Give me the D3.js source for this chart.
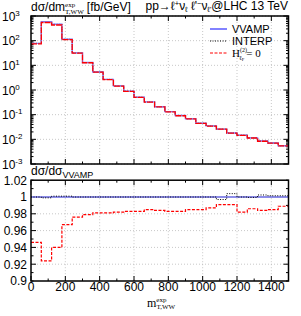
<!DOCTYPE html>
<html>
<head>
<meta charset="utf-8">
<script src="https://cdn.jsdelivr.net/npm/d3@7"></script>
<style>
  body { margin: 0; background: #fff; }
  text { font-family: "Liberation Sans", Arial, sans-serif; fill: #000; }
  .serif { font-family: "Liberation Serif", "Times New Roman", serif; }
</style>
</head>
<body>
<svg id="chart" width="301" height="316"></svg>
<script>
// bins of m_T,WW^exp (GeV), lower edges; last edge is 1500
var binLow = [0, 60, 120, 180, 240, 300, 360, 420, 480, 540, 600, 660, 720,
  780, 840, 900, 960, 1020, 1080, 1140, 1200, 1260, 1320, 1380, 1440];
var binEnd = 1500;

// dsigma/dm [fb/GeV], VVAMP
var vvamp = [78, 590, 460, 114, 32, 13, 5.4, 2.7, 1.47, 0.9, 0.51, 0.33, 0.21,
  0.133, 0.092, 0.068, 0.045, 0.035, 0.026, 0.018, 0.0148, 0.0115, 0.0085, 0.0071, 0.0055];

// ratios to VVAMP
var ratioInterp = [1.0, 0.999, 1.001, 1.001, 1.0, 1.0, 1.0, 1.0, 1.0, 1.0, 1.0, 1.0, 1.0,
  1.0, 1.0, 1.0, 1.0, 1.0, 0.997, 1.004, 1.0, 0.9995, 1.0024, 1.0015, 1.0015];
var ratioH0 = [0.946, 0.924, 0.940, 0.967, 0.976, 0.979, 0.981, 0.981, 0.982, 0.983, 0.983,
  0.985, 0.984, 0.983, 0.983, 0.985, 0.985, 0.987, 0.991, 0.991, 0.982, 0.986, 0.984, 0.985, 0.989];

var xTicks = [0, 200, 400, 600, 800, 1000, 1200, 1400];
var topExps = [-3, -2, -1, 0, 1, 2, 3];
var ratioTicks = [0.9, 0.92, 0.94, 0.96, 0.98, 1, 1.02];

var svg = d3.select('#chart');

var x = d3.scaleLinear().domain([0, 1500]).range([31, 288.5]);
var yTop = d3.scaleLog().domain([1e-3, 1e3]).range([164, 16]);
var yRat = d3.scaleLinear().domain([0.9, 1.02]).range([281, 180.2]);

// step series helper: points at each lower edge + closing point
function steps(vals) {
  var pts = binLow.map(function (b, i) { return [b, vals[i]]; });
  pts.push([binEnd, vals[vals.length - 1]]);
  return pts;
}

var interpTop = vvamp.map(function (v, i) { return v * ratioInterp[i]; });
var h0Top = vvamp.map(function (v, i) { return v * ratioH0[i]; });

var gridStyle = function (sel) {
  sel.attr('stroke', '#b0b0b0').attr('stroke-width', 0.7).attr('stroke-dasharray', '1,2');
};

function panel(y, y0, y1, majors, minors) {
  var g = svg.append('g');
  // grid
  g.selectAll('.gx').data(xTicks.slice(1)).enter().append('line')
    .attr('x1', function (d) { return x(d); }).attr('x2', function (d) { return x(d); })
    .attr('y1', y0).attr('y2', y1).call(gridStyle);
  g.selectAll('.gy').data(majors).enter().append('line')
    .attr('x1', 31).attr('x2', 288.5)
    .attr('y1', function (d) { return y(d); }).attr('y2', function (d) { return y(d); })
    .call(gridStyle);

  // ticks, inward on all four sides
  var tk = g.append('g').attr('stroke', '#000').attr('stroke-width', 1);
  x.ticks(15).forEach(function (d) {
    var len = xTicks.indexOf(d) >= 0 ? 5 : 2.5;
    tk.append('line').attr('x1', x(d)).attr('x2', x(d)).attr('y1', y1).attr('y2', y1 - len);
    tk.append('line').attr('x1', x(d)).attr('x2', x(d)).attr('y1', y0).attr('y2', y0 + len);
  });
  minors.forEach(function (d) {
    var major = majors.some(function (m) { return Math.abs(m - d) < 1e-9 * Math.max(1, m); });
    var len = major ? 5 : 2.5;
    tk.append('line').attr('x1', 31).attr('x2', 31 + len).attr('y1', y(d)).attr('y2', y(d));
    tk.append('line').attr('x1', 288.5).attr('x2', 288.5 - len).attr('y1', y(d)).attr('y2', y(d));
  });
  return g;
}

// ---------- top panel ----------
var topMajors = topExps.map(function (e) { return Math.pow(10, e); });
var pTop = panel(yTop, 16, 164, topMajors, yTop.ticks());

var lineTop = d3.line()
  .x(function (d) { return x(d[0]); })
  .y(function (d) { return yTop(d[1]); })
  .curve(d3.curveStepAfter);

pTop.append('path').datum(steps(interpTop)).attr('d', lineTop)
  .attr('fill', 'none').attr('stroke', '#000').attr('stroke-width', 1).attr('stroke-dasharray', '1,1.5');
pTop.append('path').datum(steps(vvamp)).attr('d', lineTop)
  .attr('fill', 'none').attr('stroke', '#8080ff').attr('stroke-width', 1.4);
pTop.append('path').datum(steps(h0Top)).attr('d', lineTop)
  .attr('fill', 'none').attr('stroke', '#ff0000').attr('stroke-width', 1.3).attr('stroke-dasharray', '6,1');

svg.append('rect').attr('x', 31).attr('y', 16).attr('width', 257.5).attr('height', 148)
  .attr('fill', 'none').attr('stroke', '#000').attr('stroke-width', 1.5);

// log labels
topExps.forEach(function (e) {
  var t = svg.append('text').attr('x', 2).attr('y', yTop(Math.pow(10, e)) + 4.5)
    .attr('font-size', 12);
  t.append('tspan').text('10');
  t.append('tspan').attr('font-size', 8).attr('dy', -5).text(e < 0 ? '-' + (-e) : e);
});

// ---------- ratio panel ----------
var pRat = panel(yRat, 180.2, 281, ratioTicks.slice(1, 6), yRat.ticks(12));

var lineRat = d3.line()
  .x(function (d) { return x(d[0]); })
  .y(function (d) { return yRat(d[1]); })
  .curve(d3.curveStepAfter);

pRat.append('path').datum(steps(vvamp.map(function () { return 1; }))).attr('d', lineRat)
  .attr('fill', 'none').attr('stroke', '#8c8ce8').attr('stroke-width', 1.8);
pRat.append('path').datum(steps(ratioInterp)).attr('d', lineRat)
  .attr('fill', 'none').attr('stroke', '#000').attr('stroke-width', 1).attr('stroke-dasharray', '1,1.5');
pRat.append('path').datum(steps(ratioH0)).attr('d', lineRat)
  .attr('fill', 'none').attr('stroke', '#ff0000').attr('stroke-width', 1.2).attr('stroke-dasharray', '3,1.5');

svg.append('rect').attr('x', 31).attr('y', 180.2).attr('width', 257.5).attr('height', 100.8)
  .attr('fill', 'none').attr('stroke', '#000').attr('stroke-width', 1.5);

ratioTicks.forEach(function (d) {
  svg.append('text').attr('x', 27).attr('y', yRat(d) + 4.3)
    .attr('text-anchor', 'end').attr('font-size', 12)
    .text(String(+d.toFixed(2)));
});

xTicks.forEach(function (d) {
  svg.append('text').attr('x', x(d)).attr('y', 291)
    .attr('text-anchor', 'middle').attr('font-size', 12).text(d);
});

// ---------- texts ----------
var t1 = svg.append('text').attr('x', 31).attr('y', 11).attr('font-size', 12);
t1.append('tspan').text('dσ/dm');
t1.append('tspan').attr('class', 'serif').attr('font-size', 7).attr('dy', -4).text('exp');
t1.append('tspan').attr('class', 'serif').attr('font-size', 7).attr('dx', -10.1).attr('dy', 7).text('T,WW');
t1.append('tspan').attr('dy', -3).attr('dx', 3).text('[fb/GeV]');

var t2 = svg.append('text').attr('x', 288).attr('y', 10).attr('font-size', 12).attr('text-anchor', 'end');
t2.append('tspan').text('pp→ℓ');
t2.append('tspan').attr('font-size', 7.5).attr('dy', -4).text('+');
t2.append('tspan').attr('dy', 4).text('ν');
t2.append('tspan').attr('font-size', 7.5).attr('dy', 2).text('ℓ');
t2.append('tspan').attr('dy', -2).text(' ℓ\'');
t2.append('tspan').attr('font-size', 7.5).attr('dy', -4).text('−');
t2.append('tspan').attr('dy', 4).text('ν');
t2.append('tspan').attr('font-size', 7.5).attr('dy', 2).text('ℓ\'');
t2.append('tspan').attr('dy', -2).text('@LHC 13 TeV');

var t3 = svg.append('text').attr('x', 31).attr('y', 175).attr('font-size', 12);
t3.append('tspan').text('dσ/dσ');
t3.append('tspan').attr('font-size', 9).attr('dy', 3).text('VVAMP');

var t4 = svg.append('text').attr('class', 'serif').attr('x', 147).attr('y', 307).attr('font-size', 12);
t4.append('tspan').text('m');
t4.append('tspan').attr('font-size', 7).attr('dy', -5).text('exp');
t4.append('tspan').attr('font-size', 7).attr('dx', -10).attr('dy', 7).text('T,WW');

// legend
var legend = [
  { label: 'VVAMP', color: '#3030ff', dash: null, y: 29 },
  { label: 'INTERP', color: '#000', dash: '1,1.5', y: 41 },
  { label: 'H', color: '#ff0000', dash: '3,1.5', y: 53 }
];
legend.forEach(function (l) {
  svg.append('line').attr('x1', 210).attr('x2', 227).attr('y1', l.y).attr('y2', l.y)
    .attr('stroke', l.color).attr('stroke-width', l.dash ? 1 : 1.2)
    .attr('stroke-dasharray', l.dash);
});
svg.append('text').attr('x', 232).attr('y', 33).attr('font-size', 11).text('VVAMP');
svg.append('text').attr('x', 232).attr('y', 45).attr('font-size', 11).text('INTERP');
var lh = svg.append('text').attr('class', 'serif').attr('x', 232).attr('y', 57).attr('font-size', 11);
lh.append('tspan').text('H');
lh.append('tspan').attr('font-size', 6).attr('dy', -5).text('(2)');
lh.append('tspan').attr('font-size', 6).attr('dx', -8).attr('dy', 8).text('ℓ');
lh.append('tspan').attr('font-size', 4.5).attr('dy', 1).text('F');
lh.append('tspan').attr('dx', 2).attr('dy', -4).text('= 0');
</script>
</body>
</html>
